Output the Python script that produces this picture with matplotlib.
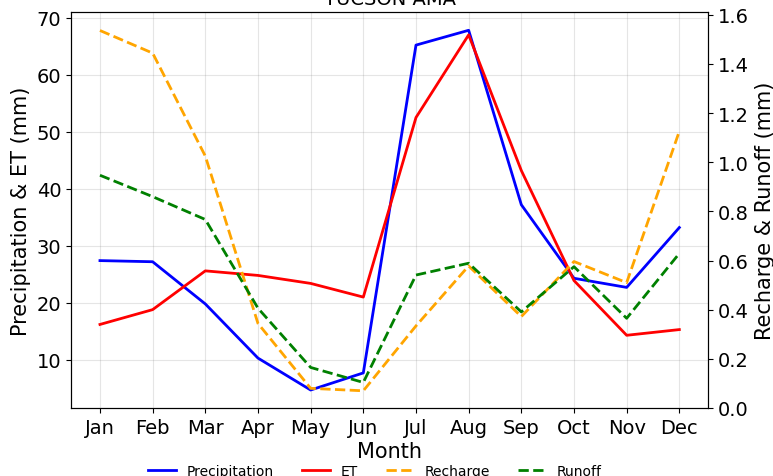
import matplotlib
matplotlib.use("Agg")
import matplotlib.pyplot as plt

months = ["Jan", "Feb", "Mar", "Apr", "May", "Jun", "Jul", "Aug", "Sep", "Oct", "Nov", "Dec"]
precipitation = [27.4, 27.2, 19.8, 10.3, 4.7, 7.7, 65.2, 67.8, 37.2, 24.3, 22.7, 33.2]
et = [16.2, 18.8, 25.6, 24.8, 23.4, 21.0, 52.5, 67.0, 43.2, 23.9, 14.3, 15.3]
recharge = [1.536, 1.444, 1.025, 0.344, 0.080, 0.070, 0.334, 0.578, 0.372, 0.596, 0.510, 1.126]
runoff = [0.947, 0.860, 0.767, 0.406, 0.165, 0.104, 0.541, 0.589, 0.391, 0.575, 0.365, 0.629]

fig = plt.figure(figsize=(7.73, 4.77), dpi=100)
ax = fig.add_axes([71/773, 1-409/477, (708.3-71)/773, (409-13.3)/477])
ax2 = ax.twinx()

l1, = ax.plot(months, precipitation, color="blue", lw=2, label="Precipitation")
l2, = ax.plot(months, et, color="red", lw=2, label="ET")
l3, = ax2.plot(months, recharge, color="orange", lw=2, ls="--", label="Recharge")
l4, = ax2.plot(months, runoff, color="green", lw=2, ls="--", label="Runoff")

ax.set_yticks([10, 20, 30, 40, 50, 60, 70])
ax2.set_ylim(0, 1.61)
ax2.set_yticks([0.0, 0.2, 0.4, 0.6, 0.8, 1.0, 1.2, 1.4, 1.6])

ax.grid(True, color="gray", alpha=0.2)
ax.set_title("TUCSON AMA", fontsize=14)
ax.set_xlabel("Month", fontsize=15, labelpad=3)
ax.set_ylabel("Precipitation & ET (mm)", fontsize=15)
ax2.set_ylabel("Recharge & Runoff (mm)", fontsize=15)
ax.tick_params(labelsize=14)
ax2.tick_params(labelsize=14)

fig.legend(handles=[l1, l2, l3, l4], loc="center", bbox_to_anchor=(375/773, 0.01),
           ncol=4, frameon=False, fontsize=10)

fig.savefig("out.png", dpi=100)
